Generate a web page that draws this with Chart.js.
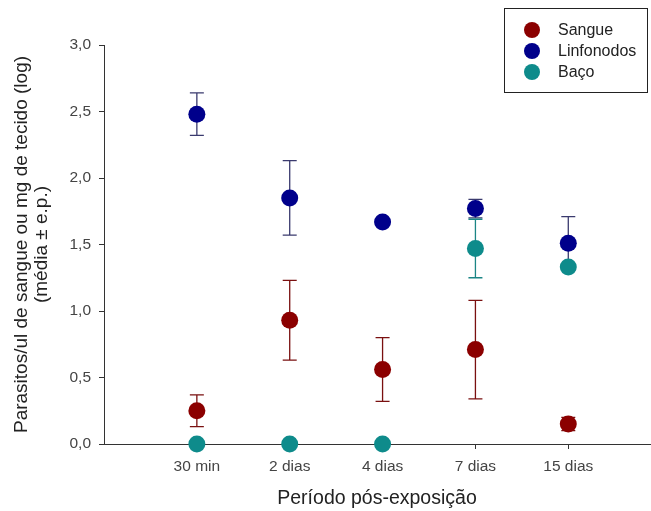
<!DOCTYPE html>
<html>
<head>
<meta charset="utf-8">
<script src="https://cdn.jsdelivr.net/npm/chart.js@4/dist/chart.umd.min.js"></script>
<style>
  html, body { margin: 0; padding: 0; background: #fff; }
  #wrap { width: 651px; height: 511px; }
</style>
</head>
<body>
<div id="wrap"><canvas id="grafico" width="651" height="511"></canvas></div>
<script>
// DATOS
const periodos = ["30 min", "2 dias", "4 dias", "7 dias", "15 dias"]
const sangue = [0.25, 0.93, 0.56, 0.71, 0.15]
const sangueErro = [0.12, 0.30, 0.24, 0.37, 0.05]
const linfonodos = [2.48, 1.85, 1.67, 1.77, 1.51]
const linfonodosErro = [0.16, 0.28, 0, 0.07, 0.20]
const baco = [0, 0, 0, 1.47, 1.33]
const bacoErro = [0, 0, 0, 0.22, 0]

const series = [
    { nome: "Sangue", valores: sangue, erros: sangueErro, cor: "#8b0000", corErro: "#7a1010" },
    { nome: "Linfonodos", valores: linfonodos, erros: linfonodosErro, cor: "#00008b", corErro: "#3a3a6e" },
    { nome: "Baço", valores: baco, erros: bacoErro, cor: "#0e8b8b", corErro: "#1b8585" },
]

const fonte = "'Liberation Sans', Arial, sans-serif"

// barras de erro (media +- e.p.) desenhadas antes dos pontos
const barrasErro = {
    id: "barrasErro",
    beforeDatasetsDraw(chart) {
        const ctx = chart.ctx
        const x = chart.scales.x
        const y = chart.scales.y
        ctx.save()
        chart.data.datasets.forEach((ds) => {
            ctx.strokeStyle = ds.corErro
            ctx.lineWidth = 1.3
            ds.data.forEach((p, i) => {
                const e = ds.erros[i]
                if (!e) return
                const px = x.getPixelForValue(p.x)
                const yTop = y.getPixelForValue(p.y + e)
                const yBot = y.getPixelForValue(Math.max(p.y - e, 0))
                ctx.beginPath()
                ctx.moveTo(px, yTop)
                ctx.lineTo(px, yBot)
                ctx.moveTo(px - 7, yTop)
                ctx.lineTo(px + 7, yTop)
                if (p.y - e >= 0) {
                    ctx.moveTo(px - 7, yBot)
                    ctx.lineTo(px + 7, yBot)
                }
                ctx.stroke()
            })
        })
        ctx.restore()
    },
}

// legenda com moldura no canto superior direito
const legendaCaixa = {
    id: "legendaCaixa",
    afterDraw(chart) {
        const ctx = chart.ctx
        ctx.save()
        ctx.strokeStyle = "#222"
        ctx.lineWidth = 1
        ctx.strokeRect(504.5, 8.5, 143, 84)
        ctx.font = "16px " + fonte
        ctx.textBaseline = "middle"
        chart.data.datasets.forEach((ds, i) => {
            const cy = 30 + i * 21
            ctx.fillStyle = ds.backgroundColor
            ctx.beginPath()
            ctx.arc(532, cy, 8, 0, Math.PI * 2)
            ctx.fill()
            ctx.fillStyle = "#222"
            ctx.fillText(ds.label, 558, cy + 1)
        })
        ctx.restore()
    },
}

const ctx = document.getElementById("grafico").getContext("2d")
new Chart(ctx, {
    type: "scatter",
    data: {
        datasets: series.map((s) => ({
            label: s.nome,
            data: s.valores.map((v, i) => ({ x: i, y: v })),
            erros: s.erros,
            corErro: s.corErro,
            backgroundColor: s.cor,
            borderColor: s.cor,
            borderWidth: 0,
            pointRadius: 8.5,
            pointHoverRadius: 8.5,
            clip: false,
        })),
    },
    options: {
        responsive: false,
        animation: false,
        layout: { autoPadding: false, padding: { left: 0, top: 45, right: 1, bottom: 0 } },
        plugins: {
            legend: { display: false },
            tooltip: { enabled: false },
        },
        scales: {
            x: {
                type: "linear",
                min: -1,
                max: 4.88,
                afterBuildTicks: (axis) => {
                    axis.ticks = periodos.map((_, i) => ({ value: i }))
                },
                afterFit: (axis) => {
                    axis.height = 67
                    axis.paddingLeft = 0
                    axis.paddingRight = 0
                },
                ticks: {
                    callback: (v) => periodos[v],
                    color: "#444",
                    font: { family: fonte, size: 15.5 },
                    padding: 8,
                    maxRotation: 0,
                },
                grid: { drawOnChartArea: false, tickLength: 5, color: "#333" },
                border: { color: "#333", width: 1 },
                title: {
                    display: true,
                    text: "Período pós-exposição",
                    color: "#222",
                    font: { family: fonte, size: 19.5, lineHeight: 1.1 },
                    padding: { top: 0, bottom: 2 },
                },
            },
            y: {
                min: 0,
                max: 3,
                afterFit: (axis) => {
                    axis.width = 104
                    axis.paddingTop = 0
                    axis.paddingBottom = 0
                },
                ticks: {
                    stepSize: 0.5,
                    callback: (v) => v.toFixed(1).replace(".", ","),
                    color: "#444",
                    font: { family: fonte, size: 15.5 },
                    padding: 8,
                },
                grid: { drawOnChartArea: false, tickLength: 5, color: "#333" },
                border: { color: "#333", width: 1 },
                title: {
                    display: true,
                    text: ["Parasitos/ul de sangue ou mg de tecido (log)", "(média ± e.p.)"],
                    color: "#222",
                    font: { family: fonte, size: 19, lineHeight: 1.05 },
                    padding: { top: 12, bottom: 0 },
                },
            },
        },
    },
    plugins: [barrasErro, legendaCaixa],
})
</script>
</body>
</html>
